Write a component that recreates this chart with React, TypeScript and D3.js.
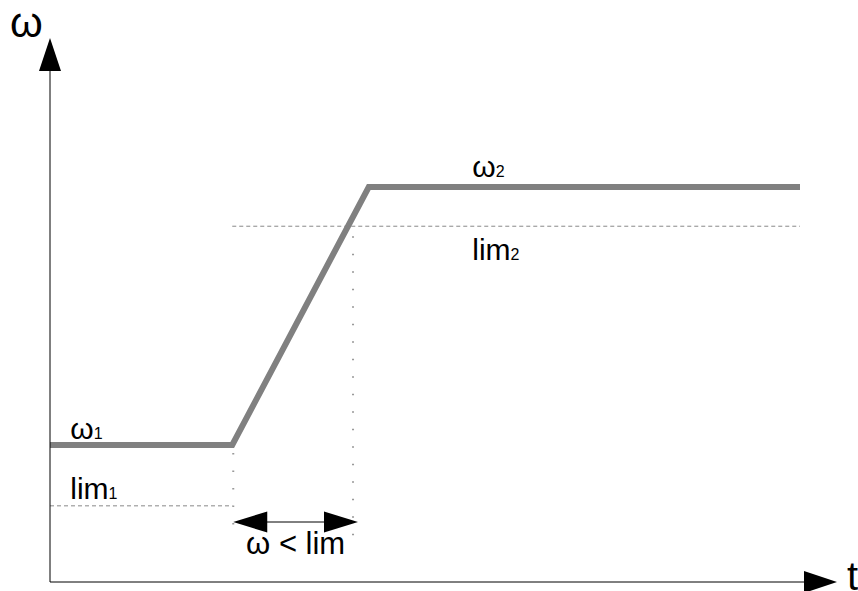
import React from "react";
import * as d3 from "d3";

// Profile of ω over time (abstract units)
const profileT = [0, 24.3, 42.5, 100];
const profileW = [25.2, 25.2, 72.6, 72.6];
// limits
const lim1 = 14.0;
const lim2 = 65.4;
// text labels
const axisLabels = { y: "ω", x: "t" };
const levelLabels = [
  { main: "ω", sub: "1", t: 2.7, w: 26.2 },
  { main: "lim", sub: "1", t: 2.7, w: 15.2 },
  { main: "ω", sub: "2", t: 56.3, w: 74.5 },
  { main: "lim", sub: "2", t: 56.3, w: 59.2 },
];
const spanLabel = "ω < lim";

const W = 858;
const H = 591;

export default function App() {
  const x = d3.scaleLinear().domain([0, 100]).range([50, 800]);
  const y = d3.scaleLinear().domain([0, 100]).range([582, 38]);

  const pts: [number, number][] = profileT.map((t, i) => [t, profileW[i]]);
  const line = d3
    .line<[number, number]>()
    .x((d) => x(d[0]))
    .y((d) => y(d[1]));

  // crossing of ramp with lim2
  const [t1, w1] = pts[1];
  const [t2, w2] = pts[2];
  const tCross = t1 + ((lim2 - w1) / (w2 - w1)) * (t2 - t1);

  const x0 = x(0);
  const y0 = y(0);
  const yTop = 38;
  const xEnd = 837;

  const arrowY = 522;
  const aL = x(t1) + 1;
  const aR = x(tCross) + 10;

  return (
    <svg
      width={W}
      height={H}
      style={{ position: "absolute", left: 0, top: 0, background: "#fff" }}
      fontFamily="'Liberation Sans', Arial, sans-serif"
    >
      <rect width={W} height={H} fill="#fff" />
      {/* dashed limit lines */}
      <line x1={x0} x2={x(t1)} y1={y(lim1)} y2={y(lim1)} stroke="#888" strokeWidth={1} strokeDasharray="4,3" />
      <line x1={x(t1)} x2={x(100)} y1={y(lim2)} y2={y(lim2)} stroke="#888" strokeWidth={1} strokeDasharray="4,3" />
      {/* dotted verticals */}
      <line x1={x(t1) + 1} x2={x(t1) + 1} y1={y(w1) + 8} y2={540} stroke="#999" strokeWidth={2} strokeDasharray="1.5,16" />
      <line x1={x(tCross) + 5} x2={x(tCross) + 5} y1={y(lim2) + 10} y2={540} stroke="#999" strokeWidth={2} strokeDasharray="1.5,16" />

      {/* profile */}
      <path d={line(pts) || ""} fill="none" stroke="#808080" strokeWidth={6} strokeLinejoin="miter" />

      {/* axes */}
      <line x1={x0} x2={x0} y1={y0} y2={yTop + 30} stroke="#000" strokeWidth={1} />
      <path d={`M${x0},${yTop} L${x0 + 11},${yTop + 33} L${x0 - 11},${yTop + 33} Z`} fill="#000" />
      <line x1={x0} x2={xEnd - 30} y1={y0} y2={y0} stroke="#000" strokeWidth={1} />
      <path d={`M${xEnd},${y0} L${xEnd - 33},${y0 - 11} L${xEnd - 33},${y0 + 11} Z`} fill="#000" />
      <text x={10} y={37} fontSize={42}>{axisLabels.y}</text>
      <text x={847} y={590} fontSize={40}>{axisLabels.x}</text>

      {/* span arrow */}
      <line x1={aL + 30} x2={aR - 30} y1={arrowY} y2={arrowY} stroke="#000" strokeWidth={1} />
      <path d={`M${aL},${arrowY} L${aL + 34},${arrowY - 10.5} L${aL + 34},${arrowY + 10.5} Z`} fill="#000" />
      <path d={`M${aR},${arrowY} L${aR - 34},${arrowY - 10.5} L${aR - 34},${arrowY + 10.5} Z`} fill="#000" />
      <text x={(aL + aR) / 2} y={554} fontSize={31} textAnchor="middle">{spanLabel}</text>

      {/* level labels */}
      {levelLabels.map((l, i) => (
        <text key={i} x={x(l.t)} y={y(l.w)} fontSize={30}>
          {l.main}
          <tspan fontSize={16}>{l.sub}</tspan>
        </text>
      ))}
    </svg>
  );
}
